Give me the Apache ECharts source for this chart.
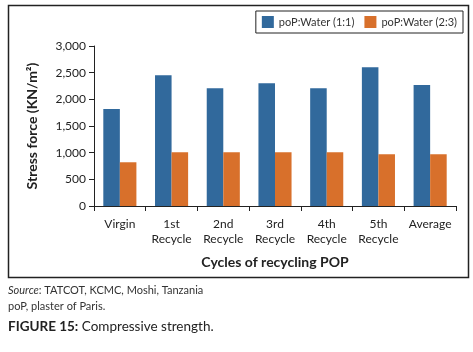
<!DOCTYPE html>
<html>
<head>
<meta charset="utf-8">
<script src="https://cdn.jsdelivr.net/npm/echarts@6/dist/echarts.min.js"></script>
<style>
  html, body { margin: 0; padding: 0; background: #fff; }
  #chart { width: 473px; height: 352px; }
</style>
</head>
<body>
<div id="chart"></div>
<script>
  var categories = ["Virgin", "1st\nRecycle", "2nd\nRecycle", "3rd\nRecycle", "4th\nRecycle", "5th\nRecycle", "Average"];
  var seriesNames = ["poP:Water (1:1)", "poP:Water (2:3)"];
  var ratio11 = [1820, 2450, 2210, 2300, 2210, 2600, 2270];
  var ratio23 = [820, 1010, 1010, 1010, 1010, 970, 970];
  var yTicks = [0, 500, 1000, 1500, 2000, 2500, 3000];

  var BLUE = "#31699c", ORANGE = "#d8702b", INK = "#222";
  var FONT = "Lato";

  var chart = echarts.init(document.getElementById("chart"));
  chart.setOption({
    animation: false,
    textStyle: { fontFamily: FONT },
    legend: {
      data: seriesNames,
      top: 11, right: 10,
      padding: [5, 6],
      borderColor: INK, borderWidth: 1,
      itemWidth: 12, itemHeight: 12, itemGap: 10,
      icon: "rect",
      textStyle: { fontSize: 11, color: "#333", fontFamily: FONT }
    },
    grid: { left: 94, right: 17, top: 46, bottom: 146 },
    xAxis: {
      type: "category",
      data: categories,
      name: "Cycles of recycling POP",
      nameLocation: "middle",
      nameGap: 49,
      nameTextStyle: { fontSize: 14, fontWeight: "bold", color: INK, fontFamily: FONT },
      axisLine: { lineStyle: { color: INK, width: 1 } },
      axisTick: { show: true, length: 5, lineStyle: { color: INK } },
      axisLabel: { fontSize: 12, color: INK, margin: 11, lineHeight: 15, interval: 0, fontFamily: FONT }
    },
    yAxis: {
      type: "value",
      min: yTicks[0], max: yTicks[yTicks.length - 1], interval: 500,
      name: "Stress force (KN/m\u00b2)",
      nameLocation: "middle",
      nameGap: 55,
      nameTextStyle: { fontSize: 14, fontWeight: "bold", color: INK, fontFamily: FONT },
      axisLine: { show: true, lineStyle: { color: INK, width: 1 } },
      axisTick: { show: true, length: 5, lineStyle: { color: INK } },
      splitLine: { show: false },
      axisLabel: {
        fontSize: 12, color: INK, margin: 8, fontFamily: FONT,
        formatter: function (v) { return v.toLocaleString("en-US"); }
      }
    },
    series: [
      { name: seriesNames[0], type: "bar", data: ratio11, itemStyle: { color: BLUE },
        barGap: "0%", barCategoryGap: "36%" },
      { name: seriesNames[1], type: "bar", data: ratio23, itemStyle: { color: ORANGE },
        barGap: "0%", barCategoryGap: "36%" }
    ],
    graphic: [
      { type: "rect", shape: { x: 8.5, y: 5.5, width: 460, height: 272 },
        style: { fill: "none", stroke: INK, lineWidth: 1.5 }, silent: true },
      { type: "text", left: 8, top: 285,
        style: { text: "{i|Source}: TATCOT, KCMC, Moshi, Tanzania", font: "11px " + FONT, fill: "#333",
          rich: { i: { fontStyle: "italic", fontSize: 11, fontFamily: FONT, fill: "#333" } } } },
      { type: "text", left: 8, top: 301,
        style: { text: "poP, plaster of Paris.", font: "11px " + FONT, fill: "#333" } },
      { type: "text", left: 8, top: 320,
        style: { text: "{b|FIGURE 15:} Compressive strength.", font: "13.5px " + FONT, fill: "#222",
          rich: { b: { fontWeight: "bold", fontSize: 13.5, fontFamily: FONT, fill: "#222" } } } }
    ]
  });
</script>
</body>
</html>
